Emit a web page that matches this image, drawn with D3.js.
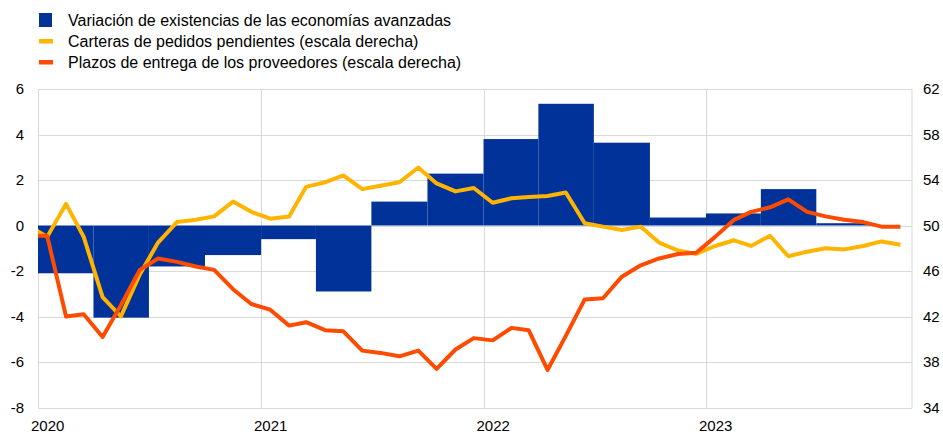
<!DOCTYPE html>
<html>
<head>
<meta charset="utf-8">
<script src="https://cdn.jsdelivr.net/npm/d3@7"></script>
<style>
  body { margin: 0; background: #fff; }
  svg { display: block; font-family: 'Liberation Sans', Arial, sans-serif; }
</style>
</head>
<body>
<div id="chart"></div>
<script>
// quarterly change in inventories (left scale)
const quarters = ['2020-Q1', '2020-Q2', '2020-Q3', '2020-Q4', '2021-Q1', '2021-Q2', '2021-Q3', '2021-Q4',
  '2022-Q1', '2022-Q2', '2022-Q3', '2022-Q4', '2023-Q1', '2023-Q2', '2023-Q3'];
const inventories = [-2.1, -4.05, -1.8, -1.3, -0.6, -2.9, 1.05, 2.28, 3.8, 5.35, 3.64, 0.35, 0.53, 1.6, 0.1];

// monthly PMI series (right scale), Dec 2019 .. Nov 2023
const firstMonth = '2019-12';
const backlogs = [50.0,
  49.0, 51.9, 49.0, 43.7, 42.0, 45.7, 48.5, 50.3, 50.5, 50.8, 52.1, 51.2,
  50.6, 50.8, 53.4, 53.8, 54.4, 53.2, 53.5, 53.8, 55.1, 53.7, 53.0, 53.3,
  52.0, 52.4, 52.5, 52.6, 52.9, 50.2, 49.9, 49.6, 49.9, 48.5, 47.8, 47.5,
  48.2, 48.7, 48.2, 49.1, 47.3, 47.7, 48.0, 47.9, 48.2, 48.6, 48.3];
const deliveryTimes = [49.1,
  49.1, 42.0, 42.2, 40.2, 43.0, 46.1, 47.1, 46.8, 46.4, 46.1, 44.4, 43.1,
  42.6, 41.2, 41.5, 40.8, 40.7, 39.0, 38.8, 38.5, 39.0, 37.4, 39.1, 40.1,
  39.9, 41.0, 40.8, 37.3, 40.3, 43.5, 43.6, 45.5, 46.5, 47.1, 47.5, 47.6,
  49.0, 50.5, 51.2, 51.6, 52.3, 51.2, 50.8, 50.5, 50.3, 49.9, 49.9];

const leftTicks = [6, 4, 2, 0, -2, -4, -6, -8];
const rightTicks = [62, 58, 54, 50, 46, 42, 38, 34];
const yearTicks = ['2020', '2021', '2022', '2023'];

const legendItems = [
  { label: 'Variación de existencias de las economías avanzadas', type: 'bar', color: '#003299' },
  { label: 'Carteras de pedidos pendientes (escala derecha)', type: 'line', color: '#ffb400' },
  { label: 'Plazos de entrega de los proveedores (escala derecha)', type: 'line', color: '#ff4b00' }
];

const width = 943;
const height = 434;
const margin = { top: 89, right: 31, bottom: 26, left: 38 };
const gridGray = '#d9d9d9';

const svg = d3.select('#chart').append('svg')
  .attr('width', width)
  .attr('height', height);

const parseMonth = d3.timeParse('%Y-%m');
const x = d3.scaleTime()
  .domain([new Date(2020, 0, 1), new Date(2023, 11, 5)])
  .range([margin.left, width - margin.right]);
const yLeft = d3.scaleLinear().domain([-8, 6]).range([height - margin.bottom - 0.5, margin.top]);
const yRight = d3.scaleLinear().domain([34, 62]).range([height - margin.bottom - 0.5, margin.top]);

// grid
const grid = svg.append('g').attr('class', 'grid');
grid.selectAll('.hgrid')
  .data(leftTicks)
  .enter().append('line')
  .attr('x1', margin.left).attr('x2', width - margin.right)
  .attr('y1', d => Math.round(yLeft(d)) + 0.5).attr('y2', d => Math.round(yLeft(d)) + 0.5)
  .attr('stroke', gridGray);
grid.selectAll('.vgrid')
  .data(yearTicks.concat(['end']))
  .enter().append('line')
  .attr('x1', d => d === 'end' ? width - margin.right : Math.round(x(new Date(+d, 0, 1))) + 0.5)
  .attr('x2', d => d === 'end' ? width - margin.right : Math.round(x(new Date(+d, 0, 1))) + 0.5)
  .attr('y1', margin.top).attr('y2', yLeft(-8))
  .attr('stroke', gridGray);

// bars
const quarterStart = q => new Date(+q.slice(0, 4), (+q.slice(6) - 1) * 3, 1);
const quarterEnd = q => new Date(+q.slice(0, 4), (+q.slice(6)) * 3, 1);
svg.append('g').selectAll('rect')
  .data(quarters.map((q, i) => [q, inventories[i]]))
  .enter().append('rect')
  .attr('x', d => x(quarterStart(d[0])))
  .attr('width', d => x(quarterEnd(d[0])) - x(quarterStart(d[0])))
  .attr('y', d => yLeft(Math.max(0, d[1])))
  .attr('height', d => Math.abs(yLeft(d[1]) - yLeft(0)))
  .attr('fill', '#003299');

// lines
svg.append('clipPath').attr('id', 'plotClip')
  .append('rect')
  .attr('x', margin.left).attr('y', 0)
  .attr('width', width - margin.left - margin.right).attr('height', height);

const months = d3.timeMonth.range(parseMonth(firstMonth), new Date(2023, 11, 1));
const midMonth = d => new Date(d.getFullYear(), d.getMonth(), 16);
const line = d3.line()
  .x(d => x(midMonth(d[0])))
  .y(d => yRight(d[1]));

const lineGroup = svg.append('g').attr('clip-path', 'url(#plotClip)');
[[backlogs, '#ffb400'], [deliveryTimes, '#ff4b00']].forEach(([series, color]) => {
  lineGroup.append('path')
    .datum(months.map((m, i) => [m, series[i]]))
    .attr('d', line)
    .attr('fill', 'none')
    .attr('stroke', color)
    .attr('stroke-width', 4)
    .attr('stroke-linejoin', 'round');
});

// axes
const plain = d => String(d);
const leftAxis = d3.axisLeft(yLeft).tickValues(leftTicks).tickFormat(plain).tickSize(0).tickPadding(14);
const rightAxis = d3.axisRight(yRight).tickValues(rightTicks).tickFormat(plain).tickSize(0).tickPadding(11);
const bottomAxis = d3.axisBottom(x)
  .tickValues(yearTicks.map(y => new Date(+y, 0, 16)))
  .tickFormat(d3.timeFormat('%Y'))
  .tickSize(0).tickPadding(12);

svg.append('g').attr('class', 'axis')
  .attr('transform', `translate(${margin.left},0)`)
  .call(leftAxis);
svg.append('g').attr('class', 'axis')
  .attr('transform', `translate(${width - margin.right},0)`)
  .call(rightAxis);
svg.append('g').attr('class', 'axis')
  .attr('transform', `translate(0,${height - margin.bottom})`)
  .call(bottomAxis);

svg.selectAll('.axis path').remove();
svg.selectAll('.axis text')
  .style('font-family', "'Liberation Sans', Arial, sans-serif")
  .style('font-size', '15px')
  .style('fill', '#000');

// legend
const legend = svg.append('g').attr('class', 'legend');
legendItems.forEach((item, i) => {
  const cy = 20 + i * 21;
  if (item.type === 'bar') {
    legend.append('rect')
      .attr('x', 39).attr('y', cy - 7).attr('width', 13).attr('height', 14)
      .attr('fill', item.color);
  } else {
    legend.append('rect')
      .attr('x', 39).attr('y', cy - 2).attr('width', 14).attr('height', 4.5)
      .attr('fill', item.color);
  }
  legend.append('text')
    .attr('x', 68).attr('y', cy)
    .attr('dy', '0.35em')
    .style('font-size', '16px')
    .style('fill', '#000')
    .text(item.label);
});
</script>
</body>
</html>
